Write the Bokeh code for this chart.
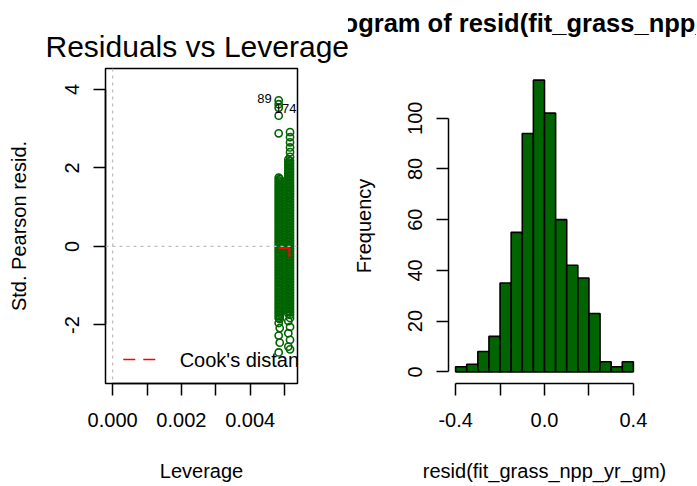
from bokeh.plotting import figure
from bokeh.layouts import row
from bokeh.models import FixedTicker, CustomJSTickFormatter, Span, Range1d, Title
from bokeh.core.properties import value
from bokeh.embed import file_html
from bokeh.resources import INLINE

FONT = "Liberation Sans"
GREEN = "#006400"

# ---------------- data: Residuals vs Leverage ----------------
# two leverage clusters; each drawn as two close sub-columns of points
LEV_A = [0.00483, 0.00486]
LEV_B = [0.00511, 0.00516]
RES_A1 = [3.72, 3.62, 3.53, 3.33, 2.88,
          1.75, 1.68, 1.61, 1.54, 1.47, 1.40, 1.33, 1.26, 1.19, 1.12, 1.05, 0.98, 0.91, 0.84,
          0.77, 0.70, 0.63, 0.56, 0.49, 0.42, 0.35, 0.28, 0.21, 0.14, 0.07, 0.00, -0.07, -0.14,
          -0.21, -0.28, -0.35, -0.42, -0.49, -0.56, -0.63, -0.70, -0.77, -0.84, -0.91, -0.98,
          -1.05, -1.12, -1.19, -1.26, -1.33, -1.40, -1.47, -1.54, -1.61, -1.68, -1.75, -1.82,
          -1.95, -2.27, -2.70]
RES_A2 = [1.72, 1.65, 1.58, 1.51, 1.44, 1.37, 1.30, 1.23, 1.16, 1.09, 1.02, 0.95, 0.88, 0.81,
          0.74, 0.67, 0.60, 0.53, 0.46, 0.39, 0.32, 0.25, 0.18, 0.11, 0.04, -0.03, -0.10,
          -0.17, -0.24, -0.31, -0.38, -0.45, -0.52, -0.59, -0.66, -0.73, -0.80, -0.87, -0.94,
          -1.01, -1.08, -1.15, -1.22, -1.29, -1.36, -1.43, -1.50, -1.57, -1.64, -1.71, -1.78,
          -1.85, -2.08, -2.45]
RES_B1 = [2.21, 2.14, 2.07, 2.00, 1.93, 1.86, 1.79, 1.72, 1.65, 1.58, 1.51, 1.44, 1.37, 1.30,
          1.23, 1.16, 1.09, 1.02, 0.95, 0.88, 0.81, 0.74, 0.67, 0.60, 0.53, 0.46, 0.39, 0.32,
          0.25, 0.18, 0.11, 0.04, -0.03, -0.10, -0.17, -0.24, -0.31, -0.38, -0.45, -0.52,
          -0.59, -0.66, -0.73, -0.80, -0.87, -0.94, -1.01, -1.08, -1.15, -1.22, -1.29, -1.36,
          -1.43, -1.50, -1.57, -1.64, -1.71, -1.90, -2.21, -2.55]
RES_B2 = [2.91, 2.78, 2.65, 2.52, 2.40, 2.28,
          2.18, 2.11, 2.04, 1.97, 1.90, 1.83, 1.76, 1.69, 1.62, 1.55, 1.48, 1.41, 1.34, 1.27,
          1.20, 1.13, 1.06, 0.99, 0.92, 0.85, 0.78, 0.71, 0.64, 0.57, 0.50, 0.43, 0.36, 0.29,
          0.22, 0.15, 0.08, 0.01, -0.06, -0.13, -0.20, -0.27, -0.34, -0.41, -0.48, -0.55,
          -0.62, -0.69, -0.76, -0.83, -0.90, -0.97, -1.04, -1.11, -1.18, -1.25, -1.32, -1.39,
          -1.46, -1.53, -1.60, -1.67, -1.74, -1.82, -2.05, -2.38, -2.62]
SMOOTH_LEV = [0.00483, 0.00514, 0.00514]
SMOOTH_RES = [-0.04, -0.04, -0.26]
ID_LEFT = ["89"]
ID_LEFT_LEV = [0.00483]
ID_LEFT_RES = [3.76]
ID_RIGHT = ["174"]
ID_RIGHT_LEV = [0.00483]
ID_RIGHT_RES = [3.50]
LEV_TICKS = [0.0, 0.001, 0.002, 0.003, 0.004, 0.005]
LEV_LABELS = ["0.000", "", "0.002", "", "0.004", ""]
RES_TICKS = [-2, 0, 2, 4]
RES_LABELS = ["-2", "0", "2", "4"]
LEGEND_TEXT = ["Cook's distance"]

# ---------------- data: histogram ----------------
BIN_LEFT = [-0.40, -0.35, -0.30, -0.25, -0.20, -0.15, -0.10, -0.05,
            0.00, 0.05, 0.10, 0.15, 0.20, 0.25, 0.30, 0.35]
BIN_RIGHT = [-0.35, -0.30, -0.25, -0.20, -0.15, -0.10, -0.05, 0.00,
             0.05, 0.10, 0.15, 0.20, 0.25, 0.30, 0.35, 0.40]
COUNTS = [2, 3, 8, 14, 35, 55, 94, 115, 102, 60, 42, 37, 23, 4, 2, 4]
HX_TICKS = [-0.4, -0.2, 0.0, 0.2, 0.4]
HX_LABELS = ["-0.4", "", "0.0", "", "0.4"]
HY_TICKS = [0, 20, 40, 60, 80, 100]
HY_LABELS = ["0", "20", "40", "60", "80", "100"]

FMT_CODE = """
for (let i = 0; i < t.length; i++) { if (Math.abs(t[i] - tick) < 1e-9) return l[i]; }
return "";
"""


def style_axis(ax, ticks, labels, label_standoff, title_standoff, bounds=None, vertical=False):
    ax.ticker = FixedTicker(ticks=ticks)
    ax.formatter = CustomJSTickFormatter(args=dict(t=ticks, l=labels), code=FMT_CODE)
    ax.axis_line_color = "black"
    ax.axis_line_width = 1.5
    ax.major_tick_line_color = "black"
    ax.major_tick_line_width = 1.5
    ax.major_tick_out = 12
    ax.major_tick_in = 0
    ax.minor_tick_line_color = None
    ax.major_label_text_font = FONT
    ax.major_label_text_font_size = "20px"
    ax.major_label_text_color = "black"
    ax.major_label_standoff = label_standoff
    ax.axis_label_text_font = FONT
    ax.axis_label_text_font_size = "20px"
    ax.axis_label_text_font_style = "normal"
    ax.axis_label_text_color = "black"
    ax.axis_label_standoff = title_standoff
    if bounds is not None:
        ax.bounds = bounds
    if vertical:
        ax.major_label_orientation = "parallel"


# ================= left panel =================
p1 = figure(frame_width=192, frame_height=315,
            min_border_left=105, min_border_right=51, min_border_top=68, min_border_bottom=102,
            x_range=Range1d(-0.000207, 0.005377), y_range=Range1d(-3.49, 4.53),
            output_backend="svg", toolbar_location=None,
            x_axis_label="Leverage", y_axis_label="Std. Pearson resid.")
p1.title = Title(text="Residuals vs Leverage", align="left", offset=-60, text_font=FONT,
                 text_font_size="30px", text_font_style="normal", text_color="black", standoff=12)
p1.xgrid.grid_line_color = None
p1.ygrid.grid_line_color = None
p1.outline_line_color = "black"
p1.outline_line_width = 1.5
p1.outline_line_alpha = 1.0
p1.background_fill_color = "white"
p1.border_fill_color = "white"
style_axis(p1.xaxis[0], LEV_TICKS, LEV_LABELS, 17, 30, bounds=(0.0, 0.005))
style_axis(p1.yaxis[0], RES_TICKS, RES_LABELS, 14, 33, bounds=(-2, 4), vertical=True)

for lev, res in ((LEV_A[0], RES_A1), (LEV_A[1], RES_A2), (LEV_B[0], RES_B1), (LEV_B[1], RES_B2)):
    p1.scatter(x=[lev] * len(res), y=res, marker="circle", size=7.2, line_width=1.6,
               line_color=GREEN, fill_color=None)

p1.add_layout(Span(location=0, dimension="height", line_color="#bebebe", line_width=1.3,
                   line_dash="3 4"))
p1.add_layout(Span(location=0, dimension="width", line_color="#bebebe", line_width=1.3,
                   line_dash="3 4"))
p1.line(SMOOTH_LEV, SMOOTH_RES, line_color="red", line_width=2)

p1.text(x=ID_LEFT_LEV, y=ID_LEFT_RES, text=ID_LEFT, text_align="right", text_baseline="middle",
        x_offset=-7, text_font=value(FONT), text_font_size="13px", text_color="black")
p1.text(x=ID_RIGHT_LEV, y=ID_RIGHT_RES, text=ID_RIGHT, text_align="left", text_baseline="middle",
        x_offset=-4, text_font=value(FONT), text_font_size="13px", text_color="black")

# legend (R legend at bottom-left, clipped by plot box)
p1.line([0.00031, 0.00125], [-2.88, -2.88], line_color="red", line_width=1.6, line_dash="12 8")
p1.text(x=[0.00195], y=[-2.88], text=LEGEND_TEXT, text_align="left", text_baseline="middle",
        text_font=value(FONT), text_font_size="20px", text_color="black")

# ================= right panel =================
p2 = figure(frame_width=192, frame_height=315,
            min_border_left=100, min_border_right=56, min_border_top=68, min_border_bottom=102,
            x_range=Range1d(-0.432, 0.432), y_range=Range1d(-4.6, 119.6),
            output_backend="svg", toolbar_location=None,
            x_axis_label="resid(fit_grass_npp_yr_gm)", y_axis_label="Frequency")
p2.title = Title(text="Histogram of resid(fit_grass_npp_yr_gm)", align="center", text_font=FONT,
                 text_font_size="25.5px", text_font_style="bold", text_color="black", standoff=0)
# empty spacer panel between the title and the plot region
p2.add_layout(Title(text=" ", text_font_size="1px", standoff=29), "above")
p2.xgrid.grid_line_color = None
p2.ygrid.grid_line_color = None
p2.outline_line_color = None
p2.background_fill_color = "white"
p2.border_fill_color = "white"
style_axis(p2.xaxis[0], HX_TICKS, HX_LABELS, 17, 30, bounds=(-0.4, 0.4))
style_axis(p2.yaxis[0], HY_TICKS, HY_LABELS, 14, 31, bounds=(0, 100), vertical=True)

p2.quad(left=BIN_LEFT, right=BIN_RIGHT, top=COUNTS, bottom=0,
        fill_color=GREEN, line_color="black", line_width=1.6)

layout = row(p1, p2)
open("out.html", "w").write(file_html(layout, INLINE))
